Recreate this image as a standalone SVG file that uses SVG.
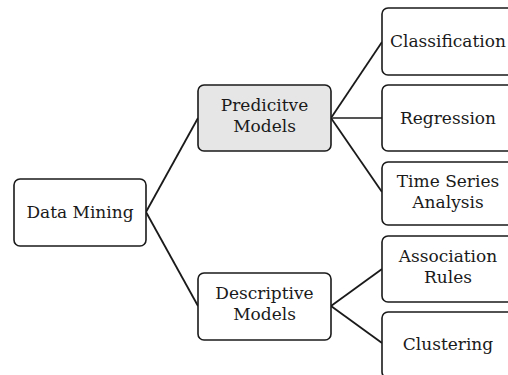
<svg xmlns="http://www.w3.org/2000/svg" width="508" height="375" viewBox="0 0 508 375">
<style>
.box{fill:#fff;stroke:#1a1a1a;stroke-width:1.6}
.grey{fill:#e6e6e6}
.lbl{font-family:"DejaVu Serif","Liberation Serif",serif;font-size:17px;fill:#1a1a1a;text-anchor:middle}
.con{stroke:#1a1a1a;stroke-width:1.8;fill:none}
</style>
<rect width="508" height="375" fill="#fff"/>
<g id="connectors">
<line class="con" x1="146" y1="212" x2="198" y2="118"/>
<line class="con" x1="146" y1="212" x2="198" y2="306"/>
<line class="con" x1="331" y1="118" x2="382" y2="42"/>
<line class="con" x1="331" y1="118" x2="382" y2="118" style="stroke:#555;stroke-width:2.2"/>
<line class="con" x1="331" y1="118" x2="382" y2="192"/>
<line class="con" x1="331" y1="306" x2="382" y2="269"/>
<line class="con" x1="331" y1="306" x2="382" y2="343"/>
</g>
<g id="data-mining">
<rect class="box" x="14" y="179" width="132" height="67" rx="6"/>
<text class="lbl" x="80" y="218">Data Mining</text>
</g>
<g id="predictive-models">
<rect class="box grey" x="198" y="85" width="133" height="66" rx="6"/>
<text class="lbl" x="264.5" y="110.5">Predicitve</text>
<text class="lbl" x="264.5" y="131.5">Models</text>
</g>
<g id="descriptive-models">
<rect class="box" x="198" y="273" width="133" height="67" rx="6"/>
<text class="lbl" x="264.5" y="298.5">Descriptive</text>
<text class="lbl" x="264.5" y="319.5">Models</text>
</g>
<g id="classification">
<rect class="box" x="382" y="8" width="132" height="67" rx="6"/>
<text class="lbl" x="448" y="47">Classification</text>
</g>
<g id="regression">
<rect class="box" x="382" y="85" width="132" height="66" rx="6"/>
<text class="lbl" x="448" y="124">Regression</text>
</g>
<g id="time-series-analysis">
<rect class="box" x="382" y="162" width="132" height="63" rx="6"/>
<text class="lbl" x="448" y="187">Time Series</text>
<text class="lbl" x="448" y="208">Analysis</text>
</g>
<g id="association-rules">
<rect class="box" x="382" y="236" width="132" height="66" rx="6"/>
<text class="lbl" x="448" y="261.5">Association</text>
<text class="lbl" x="448" y="282.5">Rules</text>
</g>
<g id="clustering">
<rect class="box" x="382" y="312" width="132" height="66" rx="6"/>
<text class="lbl" x="448" y="350">Clustering</text>
</g>
</svg>
